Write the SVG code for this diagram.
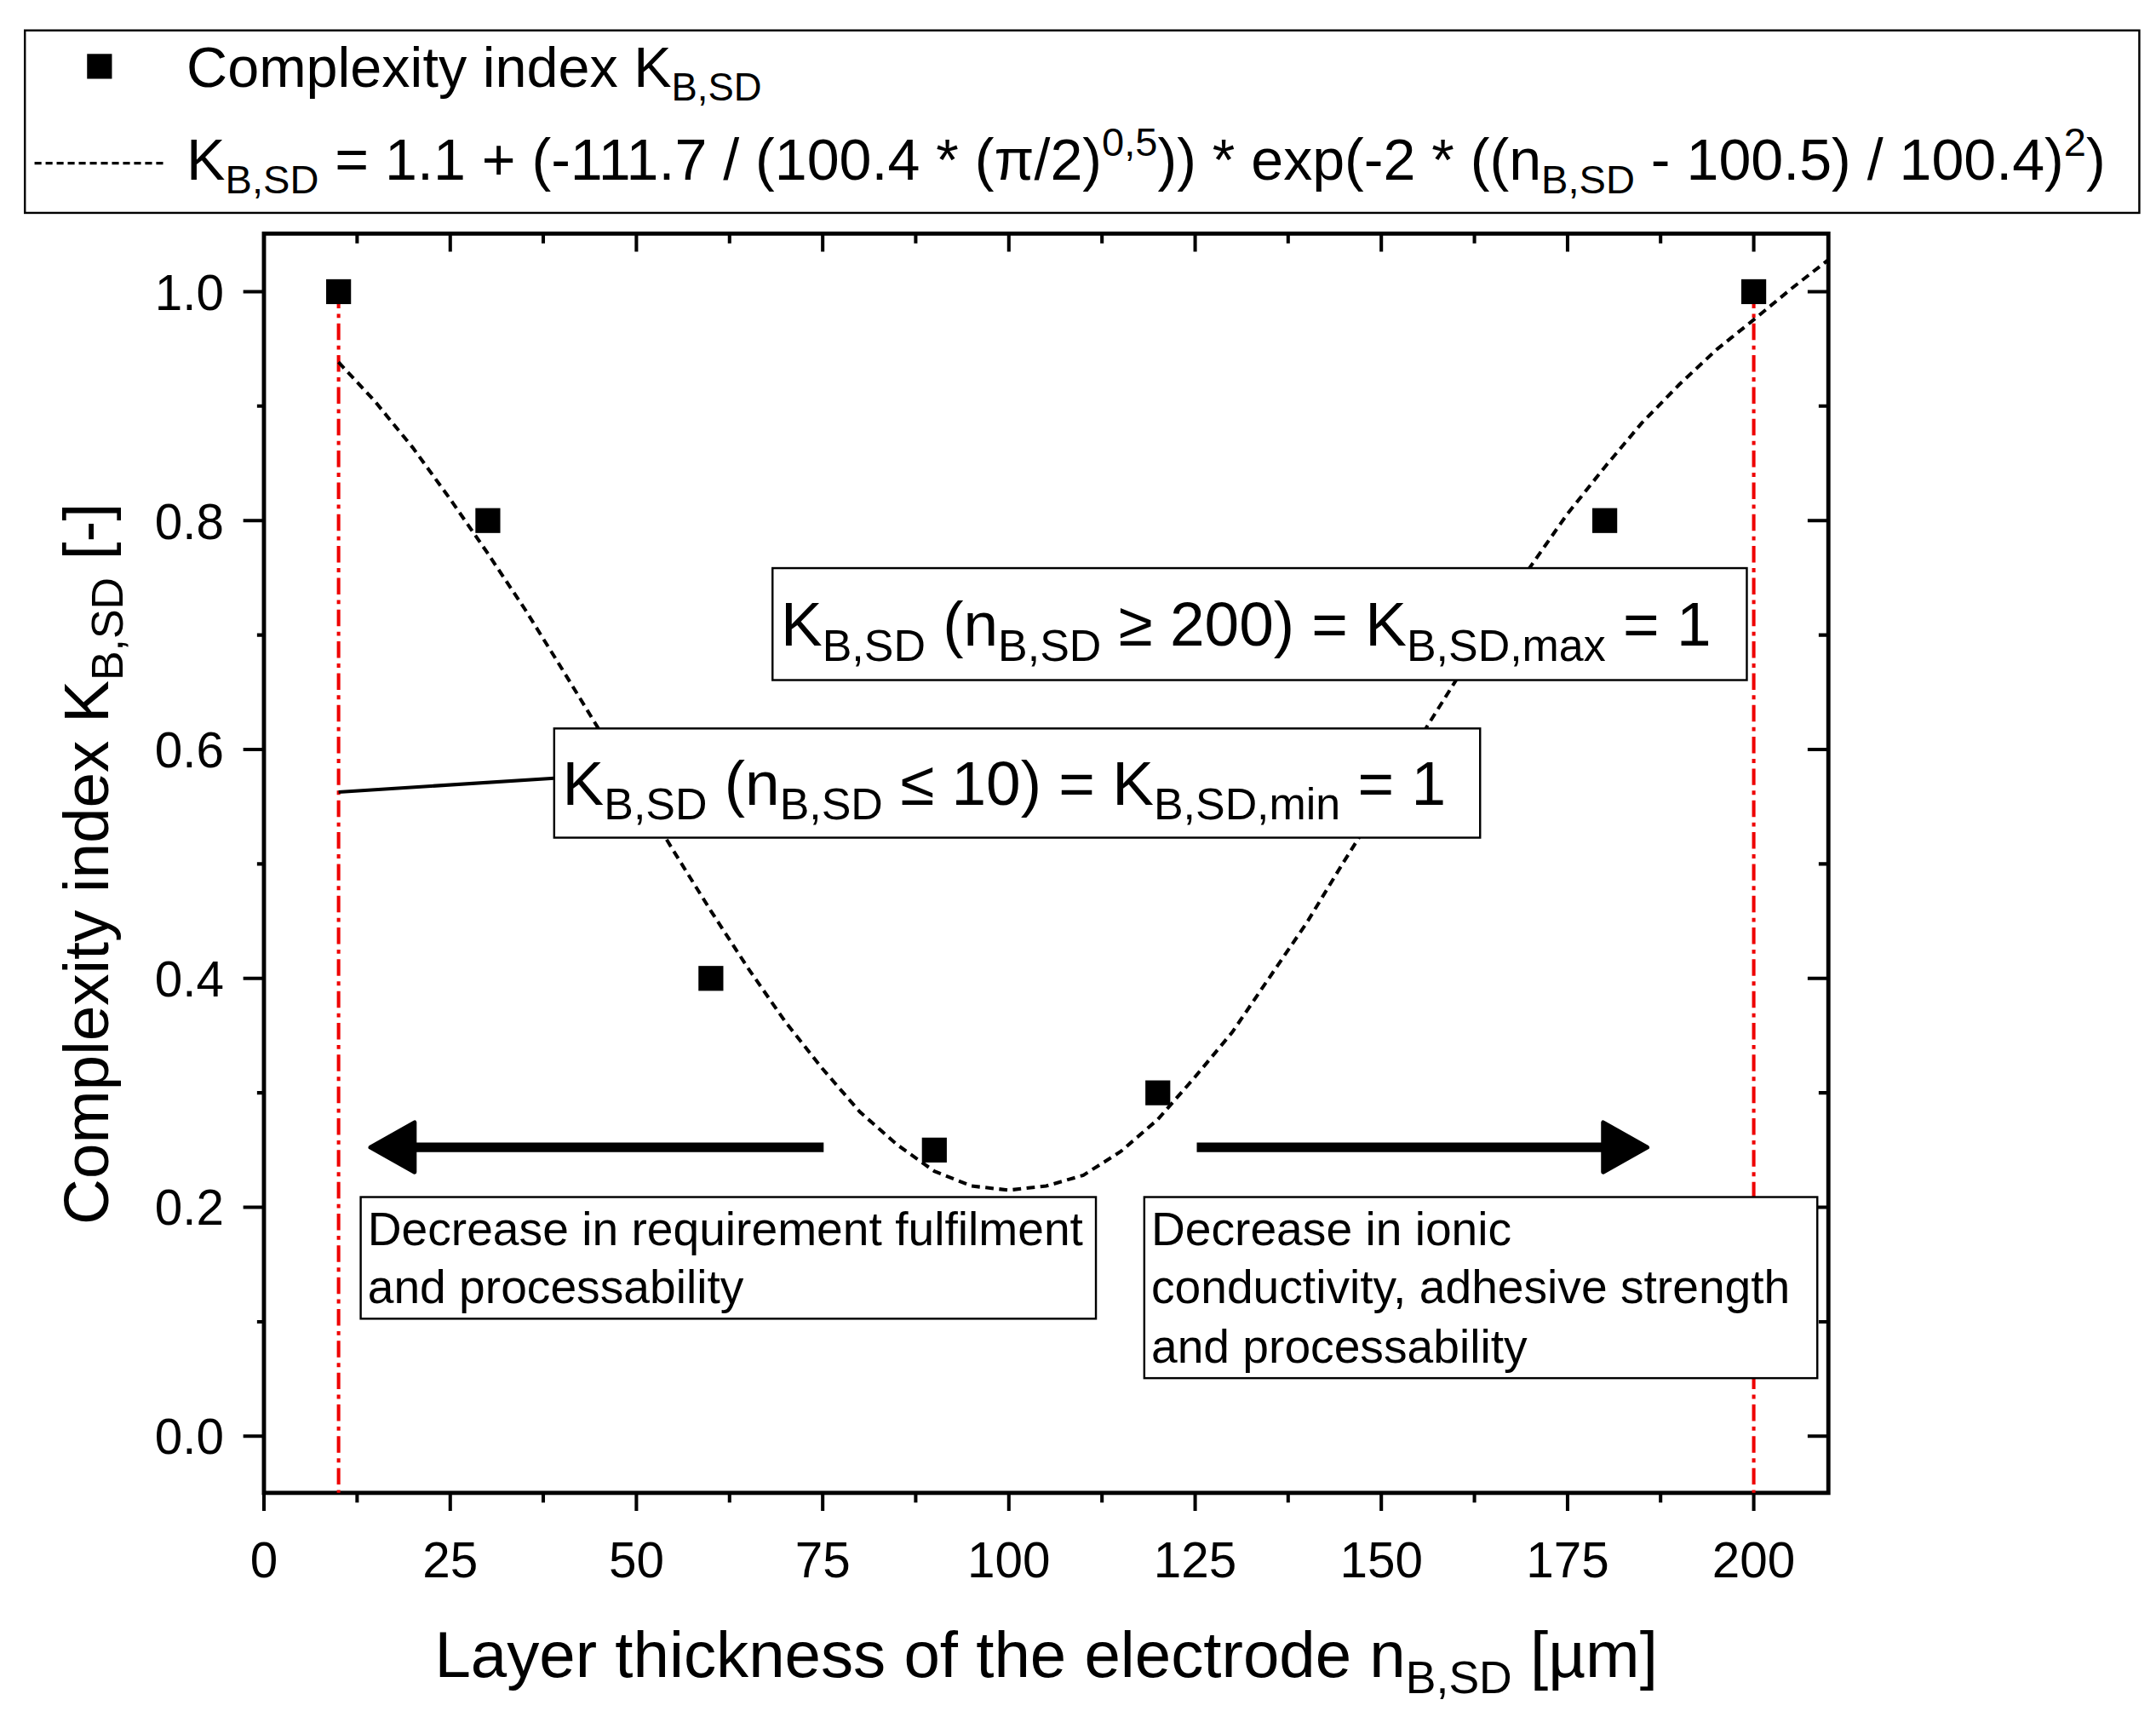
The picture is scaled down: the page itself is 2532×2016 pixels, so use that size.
<svg xmlns="http://www.w3.org/2000/svg" width="2532" height="2016" viewBox="0 0 2532 2016">
<style>
text{font-family:"Liberation Sans",Arial,sans-serif;fill:#000}
.box{fill:#fff;stroke:#000;stroke-width:1.5}
.tk{stroke:#000;stroke-width:2.5}
.red{stroke:#e00;stroke-width:2.5;stroke-dasharray:12 4 3 4;fill:none}
.pt{fill:#000}
.lab{font-size:36px}
.big{font-size:45px}
.note{font-size:34px}
</style>
<defs>
<rect id="sq" x="-9" y="-9" width="18" height="18" class="pt"/>
</defs>
<rect width="2532" height="2016" fill="#fff"/>
<g transform="scale(1.623)">
<g id="legend">
<rect class="box" x="18" y="22" width="1530" height="132"/>
<use href="#sq" x="72" y="48"/>
<text x="135" y="63" font-size="41">Complexity index K<tspan font-size="28" dy="10">B,SD</tspan></text>
<line x1="25" y1="118" x2="118" y2="118" stroke="#000" stroke-width="2" stroke-dasharray="5 3"/>
<text x="135" y="130" font-size="42">K<tspan font-size="29" dy="10">B,SD</tspan><tspan dy="-10"> = 1.1 + (-111.7 / (100.4 * (π/2)</tspan><tspan font-size="29" dy="-17">0,5</tspan><tspan dy="17">)) * exp(-2 * ((n</tspan><tspan font-size="29" dy="10">B,SD</tspan><tspan dy="-10"> - 100.5) / 100.4)</tspan><tspan font-size="29" dy="-17">2</tspan><tspan dy="17">)</tspan></text>
</g>
<g id="axes">
<rect x="191" y="169" width="1132" height="911" fill="none" stroke="#000" stroke-width="3"/>
<g class="tk">
<path d="M191 1080v13M258.4 1080v7M325.8 1080v13M393.1 1080v7M460.5 1080v13M527.9 1080v7M595.3 1080v13M662.6 1080v7M730 1080v13M797.4 1080v7M864.8 1080v13M932.1 1080v7M999.5 1080v13M1066.9 1080v7M1134.3 1080v13M1201.6 1080v7M1269 1080v13"/>
<path d="M258.4 169v7M325.8 169v13M393.1 169v7M460.5 169v13M527.9 169v7M595.3 169v13M662.6 169v7M730 169v13M797.4 169v7M864.8 169v13M932.1 169v7M999.5 169v13M1066.9 169v7M1134.3 169v13M1201.6 169v7M1269 169v13"/>
<path d="M176 1039h15M176 873.4h15M176 707.8h15M176 542.2h15M176 376.6h15M176 211h15"/>
<path d="M1308 1039h15M1308 873.4h15M1308 707.8h15M1308 542.2h15M1308 376.6h15M1308 211h15"/>
<path d="M186 956.2h5M186 790.6h5M186 625h5M186 459.4h5M186 293.8h5M1323 956.2h-7M1323 790.6h-7M1323 625h-7M1323 459.4h-7M1323 293.8h-7"/>
</g>
<g class="lab" text-anchor="middle">
<text x="191" y="1141">0</text><text x="325.8" y="1141">25</text><text x="460.5" y="1141">50</text><text x="595.3" y="1141">75</text><text x="730" y="1141">100</text><text x="864.8" y="1141">125</text><text x="999.5" y="1141">150</text><text x="1134.3" y="1141">175</text><text x="1269" y="1141">200</text>
</g>
<g class="lab" text-anchor="end">
<text x="162" y="1052">0.0</text><text x="162" y="886">0.2</text><text x="162" y="721">0.4</text><text x="162" y="555">0.6</text><text x="162" y="390">0.8</text><text x="162" y="224">1.0</text>
</g>
<text x="757" y="1213" font-size="47" text-anchor="middle">Layer thickness of the electrode n<tspan font-size="33" dy="12">B,SD</tspan><tspan dy="-12"> [µm]</tspan></text>
<text transform="translate(78,625) rotate(-90)" font-size="46" text-anchor="middle">Complexity index K<tspan font-size="32" dy="11">B,SD</tspan><tspan dy="-11"> [-]</tspan></text>
</g>
<g id="connectors">
<line class="red" x1="245" y1="211" x2="245" y2="1080"/>
<line class="red" x1="1269" y1="211" x2="1269" y2="1080"/>
<polyline fill="none" stroke="#000" stroke-width="2.5" stroke-dasharray="6 4" points="244.9,262 271,290 298.8,324 325,360 352.7,400 380,441 406.6,483.8 433,527 460.5,571.3 487,615 514.4,659 541,700 568.3,739.3 595,773 622.2,804.4 649,828 676.1,847.3 703,858 730,861 757,858 783.9,850.2 811,833 837.8,809.8 864,780 891.7,746.7 918,708 945.6,667.5 972,624 999.5,580.2 1026,536 1053.4,492.4 1080,450 1107.3,410.1 1134,372 1161.2,337.9 1188,306 1215.1,278.2 1242,253 1269,231.3 1296,209 1322.9,188"/>
<line x1="245" y1="573" x2="401" y2="563" stroke="#000" stroke-width="2.5"/>
<path d="M596 830H298" stroke="#000" stroke-width="7"/>
<path d="M268 830l32-18v36z" fill="#000" stroke="#000" stroke-width="3" stroke-linejoin="round"/>
<path d="M866 830H1162" stroke="#000" stroke-width="7"/>
<path d="M1192 830l-32-18v36z" fill="#000" stroke="#000" stroke-width="3" stroke-linejoin="round"/>
</g>
<g id="points">
<use href="#sq" x="245" y="211"/><use href="#sq" x="353" y="376.6"/><use href="#sq" x="514.4" y="707.8"/><use href="#sq" x="676.1" y="832"/><use href="#sq" x="837.8" y="790.6"/><use href="#sq" x="1161.2" y="376.6"/><use href="#sq" x="1269" y="211"/>
</g>
<g id="note-max">
<rect class="box" x="559" y="411" width="705" height="81"/>
<text class="big" x="565" y="467">K<tspan font-size="32" dy="11">B,SD</tspan><tspan dy="-11"> (n</tspan><tspan font-size="32" dy="11">B,SD</tspan><tspan dy="-11"> ≥ 200) = K</tspan><tspan font-size="32" dy="11">B,SD,max</tspan><tspan dy="-11"> = 1</tspan></text>
</g>
<g id="note-min">
<rect class="box" x="401" y="527" width="670" height="79"/>
<text class="big" x="407" y="582">K<tspan font-size="32" dy="11">B,SD</tspan><tspan dy="-11"> (n</tspan><tspan font-size="32" dy="11">B,SD</tspan><tspan dy="-11"> ≤ 10) = K</tspan><tspan font-size="32" dy="11">B,SD,min</tspan><tspan dy="-11"> = 1</tspan></text>
</g>
<g id="note-left">
<rect class="box" x="261" y="866" width="532" height="88"/>
<text class="note" x="266" y="901">Decrease in requirement fulfilment</text>
<text class="note" x="266" y="943">and processability</text>
</g>
<g id="note-right">
<rect class="box" x="828" y="866" width="487" height="131"/>
<text class="note" x="833" y="901">Decrease in ionic</text>
<text class="note" x="833" y="943">conductivity, adhesive strength</text>
<text class="note" x="833" y="986">and processability</text>
</g>
</g>
</svg>
